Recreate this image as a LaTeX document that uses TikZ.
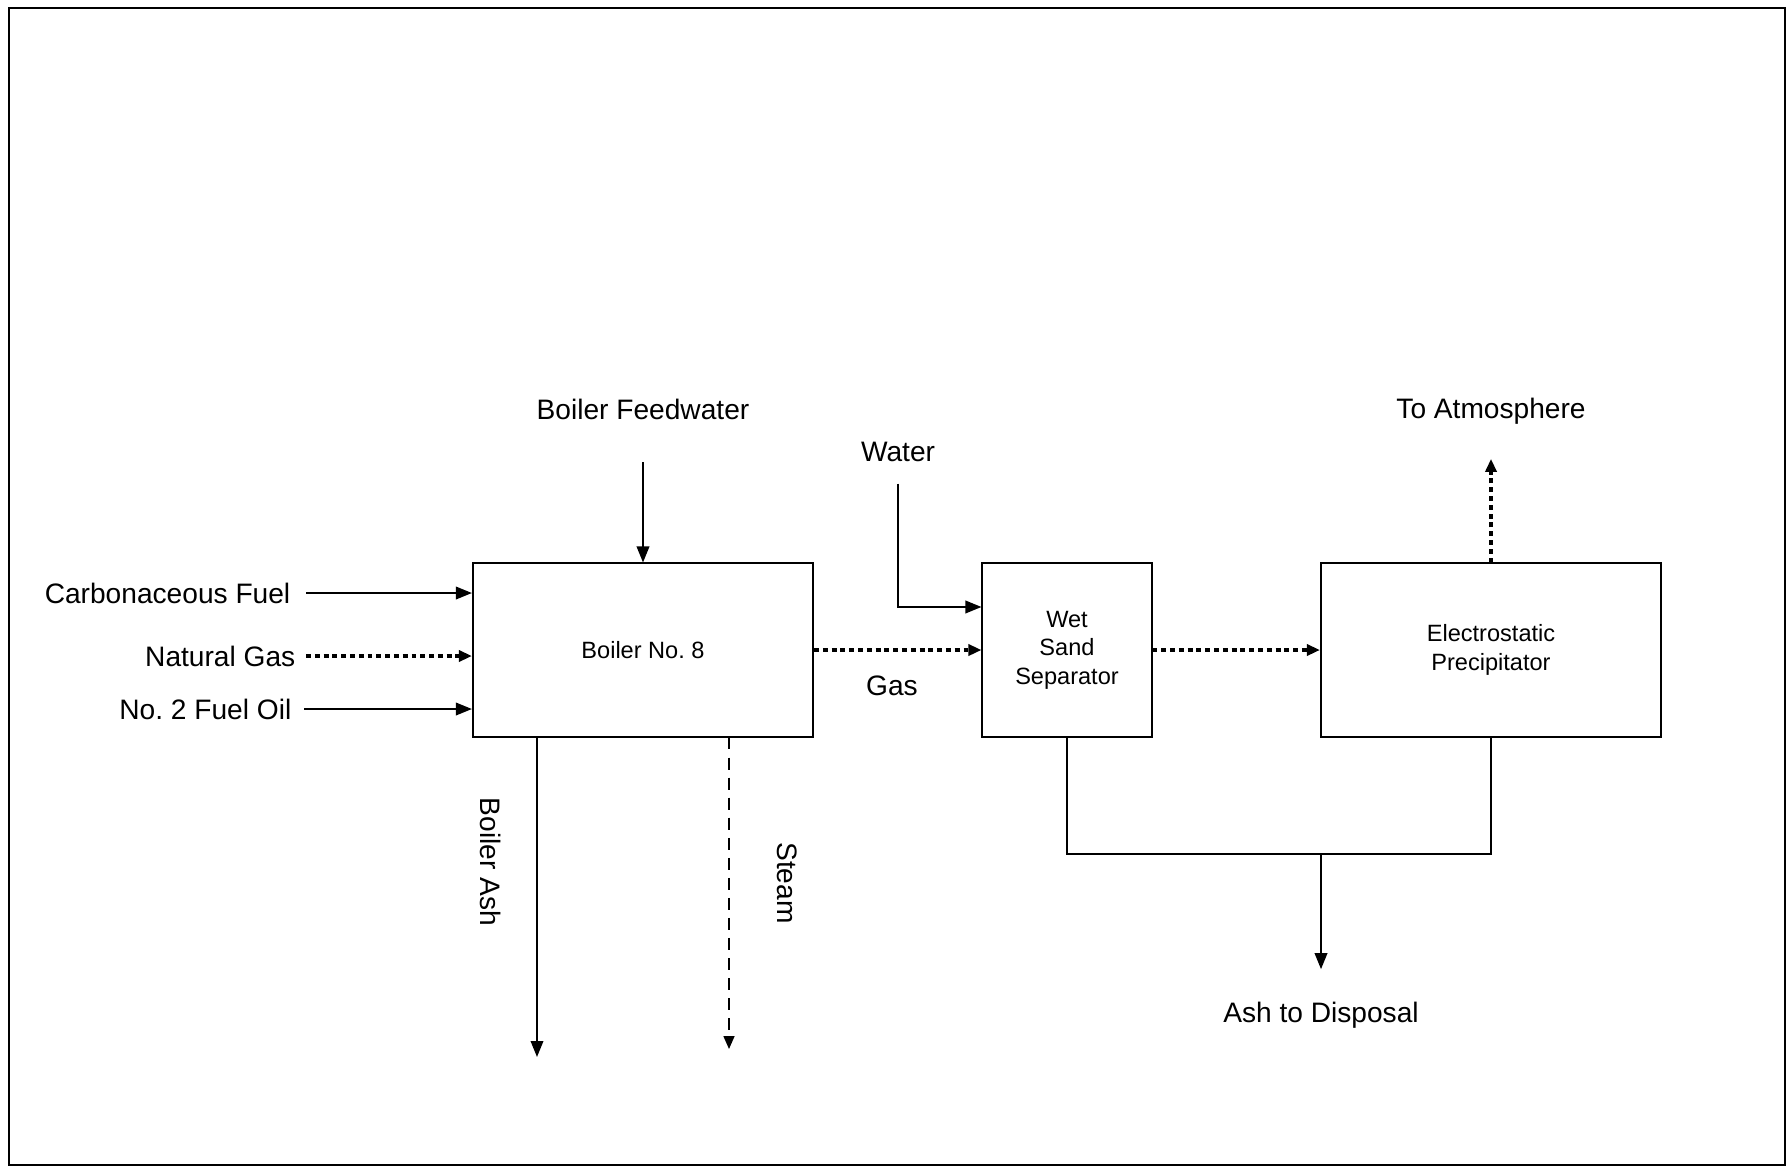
\documentclass[tikz,border=0pt]{standalone}
\usepackage{fontspec}
\setmainfont{Liberation Sans}
\usetikzlibrary{arrows.meta}

\tikzset{
  unit/.style={draw, line width=0.55pt, minimum width=3.4cm, minimum height=1.73cm,
    align=center, font=\fontsize{6.7}{8.1}\selectfont},
  lbl/.style={inner sep=0pt, font=\fontsize{8}{9.6}\selectfont},
  feed/.style={line width=0.55pt, -{Triangle[length=1.6mm,width=1.25mm]}},
  gasflow/.style={line width=0.95pt, dash pattern=on 1.4pt off 1.1pt,
    -{Triangle[length=1.3mm,width=1.1mm]}},
  steamflow/.style={line width=0.45pt, dash pattern=on 3.4pt off 2.3pt,
    -{Triangle[length=1.3mm,width=1.1mm]}}
}

\begin{document}
\begin{tikzpicture}[x=0.01cm, y=-0.01cm]

\useasboundingbox (0,0) rectangle (1791,1166);
\draw[line width=0.8pt] (9,8) rectangle (1785,1165);

% process units
\node[unit] (boiler) at (643,650) {Boiler No.\ 8};
\node[unit, minimum width=1.69cm] (wss) at (1067,650) {Wet\\Sand\\Separator};
\node[unit] (esp) at (1491,650) {Electrostatic\\Precipitator};

% fuels
\node[lbl, anchor=east] (cfuel) at (291,593) {Carbonaceous Fuel};
\node[lbl, anchor=east] (ngas) at (296,656) {Natural Gas};
\node[lbl, anchor=east] (oil) at (292,709) {No.\ 2 Fuel Oil};

\draw[feed] ([xshift=0.15cm]cfuel.east) -- (cfuel.east -| boiler.west);
\draw[gasflow] ([xshift=0.1cm]ngas.east) -- (ngas.east -| boiler.west);
\draw[feed] ([xshift=0.12cm]oil.east) -- (oil.east -| boiler.west);

% boiler feedwater and water
\node[lbl] (bfw) at (643,409) {Boiler Feedwater};
\draw[feed] ([yshift=-0.42cm]bfw.south) -- (boiler.north);

\node[lbl] (water) at (898,452) {Water};
\draw[feed] ([yshift=-0.21cm]water.south) |- ([yshift=0.43cm]wss.west);

% gas path
\node[lbl] (gas) at (892,686) {Gas};
\draw[gasflow] (boiler.east) -- (wss.west);
\draw[gasflow] (wss.east) -- (esp.west);

\node[lbl] (atm) at (1491,411) {To Atmosphere};
\draw[gasflow] (esp.north) -- ([yshift=-0.34cm]atm.south);

% boiler outlets
\coordinate (ashend) at (537,1057);
\coordinate (steamend) at (729,1049);
\draw[feed] (ashend |- boiler.south) -- (ashend);
\draw[steamflow] (steamend |- boiler.south) -- (steamend);
\node[lbl, rotate=-90] (bash) at (491,862) {Boiler Ash};
\node[lbl, rotate=-90] (steam) at (787,883) {Steam};

% ash collection
\coordinate (ashjoin) at (1321,854);
\draw[line width=0.55pt] (wss.south) |- (ashjoin) -| (esp.south);
\node[lbl] (disposal) at (1321,1015) {Ash to Disposal};
\draw[feed] (ashjoin) -- ([yshift=0.32cm]disposal.north);

\end{tikzpicture}
\end{document}
